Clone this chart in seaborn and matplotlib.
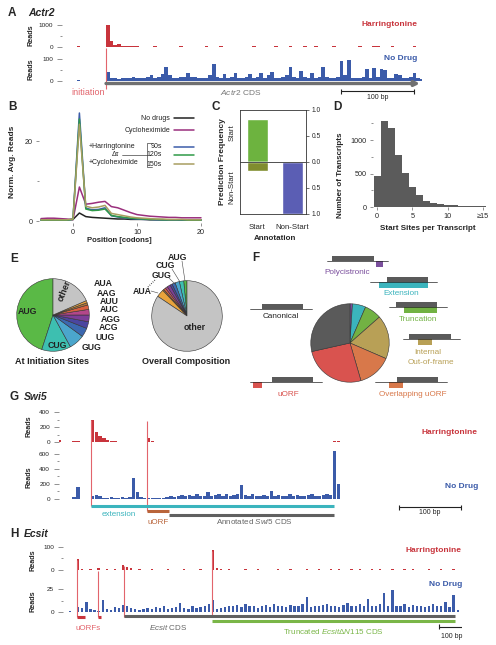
import numpy as np
import pandas as pd
import matplotlib
matplotlib.use('Agg')
import matplotlib.pyplot as plt
from matplotlib.patches import Rectangle
from matplotlib.ticker import FixedLocator
import seaborn as sns

sns.set_theme(style='white')
plt.rcParams['font.family'] = ['Liberation Sans', 'DejaVu Sans']
plt.rcParams['mathtext.fontset'] = 'custom'
plt.rcParams['mathtext.rm'] = 'Liberation Sans'
plt.rcParams['mathtext.it'] = 'Liberation Sans:italic'
plt.rcParams['mathtext.bf'] = 'Liberation Sans:bold'
plt.rcParams['axes.linewidth'] = 0.6

# ---------------- data ----------------
# A: Actr2 read profiles (5 bp bins starting at -55 bp)
actr2_start, actr2_bin = -55, 5
actr2_harr = [0, 0, 0, 30, 0, 0, 0, 0, 0, 0, 0,
              1000, 280, 90, 150, 60, 40, 30, 30, 25, 20, 8, 0, 0, 30, 0, 0, 0, 0, 0, 0, 30, 0, 0, 0, 0, 0, 0,
              30, 0, 0, 0, 30, 0, 0, 0, 0, 0, 0, 0, 0, 30, 0, 0, 0, 0, 0, 30, 0, 0, 0, 30, 0, 0, 0, 30, 0, 0,
              30, 0, 0, 0, 0, 30, 0, 0, 0, 0, 0, 0, 30, 0, 0, 0, 30, 30, 0, 0, 0, 30, 0, 0, 0, 0, 0, 30, 0, 0]
actr2_nodrug = [0, 0, 2, 3, 0, 0, 2, 0, 0, 0, 1,
                40, 15, 12, 10, 12, 14, 12, 20, 14, 12, 15, 18, 25, 15, 20, 30, 65, 25, 15, 14, 18, 20, 35, 20,
                20, 14, 12, 15, 25, 75, 20, 15, 30, 12, 20, 35, 15, 14, 18, 30, 14, 20, 35, 15, 25, 40, 15, 12,
                20, 25, 65, 20, 15, 45, 20, 15, 35, 15, 20, 65, 20, 15, 12, 20, 90, 25, 95, 15, 12, 14, 20, 55,
                15, 60, 20, 55, 50, 15, 12, 30, 25, 14, 15, 20, 35, 12, 8]
actr2_cds = (0, 430)

# B: metagene profiles
position_codons = list(range(-5, 21))
no_drugs = [0.3, 0.3, 0.3, 0.3, 0.3, 0.4, 2.0, 1.1, 0.9, 0.8, 0.7, 0.6, 0.5, 0.5, 0.4, 0.4,
            0.4, 0.3, 0.3, 0.3, 0.3, 0.3, 0.3, 0.3, 0.3, 0.3]
cycloheximide = [0.6, 0.7, 0.7, 0.6, 0.5, 0.3, 8.5, 4.2, 4.4, 4.7, 4.9, 3.6, 3.3, 2.7, 2.1, 1.6,
                 1.4, 1.2, 1.1, 1.0, 0.9, 0.9, 0.8, 0.8, 0.8, 0.8]
harr_90s = [0.2, 0.2, 0.2, 0.2, 0.2, 0.5, 27.0, 3.2, 2.8, 2.9, 3.3, 1.3, 1.0, 0.8, 0.6, 0.5,
            0.4, 0.4, 0.3, 0.3, 0.3, 0.3, 0.2, 0.2, 0.2, 0.2]
harr_120s = [0.2, 0.2, 0.2, 0.2, 0.2, 0.4, 25.5, 3.0, 2.6, 2.7, 3.0, 1.4, 1.1, 0.9, 0.7, 0.6,
             0.5, 0.4, 0.4, 0.3, 0.3, 0.3, 0.3, 0.2, 0.2, 0.2]
harr_150s = [0.3, 0.3, 0.3, 0.3, 0.3, 0.5, 24.2, 3.7, 3.3, 3.5, 3.9, 1.9, 1.6, 1.3, 1.0, 0.8,
             0.7, 0.6, 0.5, 0.5, 0.4, 0.4, 0.4, 0.3, 0.3, 0.3]

# C: prediction frequency
annotation = ['Start', 'Non-Start']
pred_as_start = [0.83, 0.0]
pred_as_nonstart = [-0.17, -1.0]

# D: start sites per transcript
start_sites = list(range(16))
n_transcripts = [470, 1285, 1180, 776, 507, 305, 180, 95, 60, 45, 30, 30, 20, 12, 8, 20]
start_site_labels = ['0', '5', '10', '\u226515']

# E: codon composition
codons = ['AUG', 'CUG', 'GUG', 'UUG', 'ACG', 'AGG', 'AUC', 'AUU', 'AAG', 'AUA', 'other']
init_frac = [0.45, 0.13, 0.07, 0.04, 0.03, 0.03, 0.025, 0.02, 0.01, 0.01, 0.185]
overall_frac = [0.015, 0.02, 0.02, 0.015, 0.01, 0.015, 0.01, 0.01, 0.006, 0.035, 0.844]
codon_colors = ['#5ab946', '#3dbfb0', '#4ba6cc', '#3c68b0', '#4b46a0', '#7d3e98',
                '#b3478a', '#d9603f', '#b5783a', '#e8a33c', '#c4c4c4']

# F: ORF classes
orf_types = ['Polycistronic', 'Extension', 'Truncation', 'Internal Out-of-frame',
             'Overlapping uORF', 'uORF', 'Canonical']
orf_frac = [0.01, 0.055, 0.07, 0.18, 0.14, 0.26, 0.285]
orf_colors = ['#7b4f9d', '#3bb4bd', '#72b243', '#b8a056', '#d8784a', '#d9534f', '#5a5a5a']

# G: Swi5 (6 bp bins starting at -54 bp)
swi5_start, swi5_bin = -54, 6
swi5_harr = [25, 5, 0, 0, 8, 20, 0, 5, 0,
             300, 140, 80, 50, 30, 20,
             8, 0, 5, 0, 6, 0, 4, 0, 6, 55, 12,
             0, 5, 0, 0, 6, 0, 4, 0, 0, 5, 6, 0, 5, 0, 0, 4, 0, 6, 0, 0, 5, 0, 0, 4, 6, 0, 5, 0, 0, 0,
             6, 0, 4, 0, 0, 5, 0, 0, 6, 0, 0, 4, 0, 5, 0, 0, 6, 0, 8, 10,
             0, 0, 4, 0, 0, 0, 5, 0, 0, 0, 0, 4, 0, 0, 0, 0, 5, 0, 0, 0, 0, 0, 4, 0, 0, 0, 0, 5, 0, 0,
             0, 0, 4, 0, 0, 0, 0, 0]
swi5_nodrug = [0, 3, 0, 4, 20, 160, 3, 0, 5,
               40, 55, 35,
               15, 10, 20, 10, 15, 25, 12, 30,
               280, 90,
               20, 10, 15, 8, 12, 10, 15,
               30, 45, 25, 40, 55, 35, 50, 40, 60, 35, 45, 95, 40, 55, 70, 45, 60, 35, 50, 65,
               180, 55, 40, 60, 45, 35, 50, 40, 107, 45, 55, 35, 45, 60, 40, 50, 45, 35, 55, 60,
               40, 45, 50, 65, 55,
               640, 200,
               0, 3, 0, 0, 4, 0, 0, 3, 0, 0, 0, 4, 0, 0, 3, 0, 0, 0, 0, 4, 0, 0, 0, 3, 0, 0, 4, 0, 0, 0,
               3, 0, 0, 4, 0, 3, 0, 0]
swi5_starts = [0, 90]
swi5_extension = (0, 392)
swi5_uorf = (90, 126)
swi5_cds = (126, 392)

# H: Ecsit (16 bp bins starting at -216 bp)
ecsit_start, ecsit_bin = -216, 16
ecsit_harr = [0, 0, 48, 6, 0, 3, 0, 9, 0, 3, 0, 4, 0, 22, 12, 8,
              0, 4, 0, 0, 4, 0, 0, 0, 5, 0, 0, 0, 4, 0, 0, 0, 4, 0, 0,
              85, 10, 6,
              0, 4, 0, 0, 0, 5, 0, 0, 4, 0, 0, 0, 0, 5, 0, 0, 4, 0, 0, 0, 4, 0, 0, 5, 0, 0, 4, 0, 4, 0,
              0, 5, 0, 4, 0, 0, 4, 0, 5, 0, 0, 4, 0, 0, 5, 0, 4, 0, 0, 0, 4, 0, 0, 5, 0, 0, 6, 0]
ecsit_nodrug = [1, 0, 5, 4, 11, 3, 2, 1, 13, 3, 2, 5, 4, 8,
                6, 4, 3, 2, 3, 4, 3, 5, 4, 6, 3, 4, 5, 10, 4, 3, 6, 4, 5, 7, 9,
                13,
                3, 4, 5, 7, 6, 8, 5, 9, 6, 7, 4, 6, 8, 5, 9, 7, 6, 5, 8, 7, 6, 9,
                16,
                5, 7, 6, 8, 9, 6, 7, 5, 8, 10, 6, 7, 9, 6, 14, 7, 6, 9,
                21, 6, 24,
                7, 6, 9, 5, 8, 6, 7, 5, 6, 9, 7, 6, 11, 5,
                18, 2]
ecsit_starts = [-184, -102, 0, 345]
ecsit_uorfs = [(-184, -153), (-102, -90)]
ecsit_cds = (0, 1298)
ecsit_truncated = (345, 1298)

# ---------------- figure ----------------
W, H = 496, 645
RED = '#c8343c'
REDLINE = '#e2646c'
BLUE = '#3b5ba9'
fig = plt.figure(figsize=(W / 100, H / 100), dpi=100)
fig.patch.set_facecolor('white')


def px_axes(x0, y0, x1, y1, **kw):
    return fig.add_axes([x0 / W, 1 - y1 / H, (x1 - x0) / W, (y1 - y0) / H], **kw)


ov = px_axes(0, 0, W, H, zorder=20)
ov.set_xlim(0, W)
ov.set_ylim(H, 0)
ov.axis('off')


def txt(x, y, s, size=5.5, **kw):
    kw.setdefault('ha', 'center')
    kw.setdefault('va', 'center')
    ov.text(x, y, s, fontsize=size, **kw)


def panel(x, y, s):
    txt(x, y, s, size=8.5, fontweight='bold', ha='left')


def track(x0, y0, x1, y1, xlim, ylim, start, binw, vals, width, color, ticks, minor):
    ax = px_axes(x0, y0, x1, y1)
    pos = start + binw * np.arange(len(vals))
    ax.bar(pos, vals, width=width, align='edge', color=color, linewidth=0)
    ax.set_xlim(xlim)
    ax.set_ylim(ylim)
    for s in ax.spines.values():
        s.set_visible(False)
    ax.set_xticks([])
    ax.set_yticks(ticks)
    ax.set_yticklabels([str(t) for t in ticks])
    ax.yaxis.set_minor_locator(FixedLocator(minor))
    ax.tick_params(axis='y', which='major', left=True, length=3.5, width=0.5, pad=3,
                   labelsize=4.6, color='#666', labelcolor='#222')
    ax.tick_params(axis='y', which='minor', left=True, length=1.8, width=0.5, color='#666')
    ax.patch.set_alpha(0)
    return ax


def annot_axes(x0, x1, y0, y1, xlim):
    ax = px_axes(x0, y0, x1, y1, zorder=5)
    ax.set_xlim(xlim)
    ax.set_ylim(y1, y0)
    ax.axis('off')
    return ax


def scalebar(ax, a, b, y, ytext):
    ax.plot([a, b], [y, y], color='#222', lw=0.8)
    ax.vlines([a, b], y - 2.5, y + 2.5, color='#222', lw=0.8)
    ax.text((a + b) / 2, ytext, '100 bp', fontsize=5, ha='center', va='center', color='#222')


def pie(ax, fracs, colors, **kw):
    ax.pie(fracs, colors=colors, startangle=90, radius=1,
           wedgeprops=dict(edgecolor='#333', linewidth=0.4), **kw)
    ax.set_xlim(-1.02, 1.02)
    ax.set_ylim(-1.02, 1.02)


# ---------------- A ----------------
panel(8, 13, 'A')
txt(28, 13, 'Actr2', size=7.5, fontweight='bold', fontstyle='italic', ha='left')
xlA = ((62 - 106) / 0.73, (422 - 106) / 0.73)
track(62, 22, 422, 47, xlA, (0, 1136), actr2_start, actr2_bin, actr2_harr, 5, RED, [0, 1000], [500])
track(62, 56, 422, 81, xlA, (0, 113.6), actr2_start, actr2_bin, actr2_nodrug, 5, BLUE, [0, 100], [50])
aA = annot_axes(62, 422, 0, 105, xlA)
aA.vlines(0.5, 48, 89, color=REDLINE, lw=0.8)
aA.annotate('', xy=(actr2_cds[1], 83.5), xytext=(actr2_cds[0], 83.5),
            arrowprops=dict(arrowstyle='-|>', lw=2.4, color='#707070', mutation_scale=7,
                            shrinkA=0, shrinkB=0))
aA.text(-1, 92.5, 'initiation', fontsize=6.5, color=REDLINE, ha='right', va='center')
aA.text(185, 92.5, r'$\mathit{Actr2}$ CDS', fontsize=6, color='#777', ha='center', va='center')
scalebar(aA, 322, 422, 91, 97.5)
txt(417, 24, 'Harringtonine', size=6, color=RED, fontweight='bold', ha='right')
txt(417, 59, 'No Drug', size=6, color=BLUE, fontweight='bold', ha='right')
txt(31, 35, 'Reads', size=5.2, fontweight='bold', rotation=90)
txt(31, 69, 'Reads', size=5.2, fontweight='bold', rotation=90)

# ---------------- B ----------------
panel(8, 107, 'B')
n = len(position_codons)
dfB = pd.DataFrame({
    'Position': position_codons * 5,
    'Reads': no_drugs + cycloheximide + harr_90s + harr_120s + harr_150s,
    'Condition': ['No drugs'] * n + ['Cycloheximide'] * n + ['90s'] * n + ['120s'] * n + ['150s'] * n,
})
palB = {'No drugs': '#222222', 'Cycloheximide': '#9a2f7d', '90s': '#3c5da9',
        '120s': '#2f9a48', '150s': '#a89e60'}
axB = px_axes(39, 109, 203, 223)
sns.lineplot(data=dfB, x='Position', y='Reads', hue='Condition', palette=palB,
             hue_order=['No drugs', 'Cycloheximide', '90s', '120s', '150s'],
             linewidth=1.1, legend=False, ax=axB)
axB.set_xlim(-5.31, 20.31)
axB.set_ylim(-0.5, 28)
for s in axB.spines.values():
    s.set_visible(False)
axB.set_xticks([0, 10, 20])
axB.set_yticks([0, 20])
axB.yaxis.set_minor_locator(FixedLocator([10]))
axB.tick_params(axis='both', which='major', labelsize=5.2, length=2.5, width=0.5, color='#666',
                left=True, bottom=True, pad=2)
axB.tick_params(axis='y', which='minor', left=True, length=1.5, width=0.5, color='#666')
axB.set_xlabel('')
axB.set_ylabel('')
axB.patch.set_alpha(0)
txt(13, 162, 'Norm. Avg. Reads', size=6, fontweight='bold', rotation=90)
txt(119, 241, 'Position [codons]', size=5.6, fontweight='bold')
# legend keys
for label, y, key in [('No drugs', 118, 'No drugs'), ('Cycloheximide', 130, 'Cycloheximide')]:
    txt(170, y, label, size=5, ha='right', color='#222')
    ov.plot([174, 194], [y, y], color=palB[key], lw=1.1)
for label, y in [('90s', 147), ('120s', 155), ('150s', 164)]:
    txt(162, y, label, size=5, ha='right', color='#222')
    ov.plot([174, 194], [y, y], color=palB[label], lw=1.1)
txt(89, 147, '+Harringtonine', size=5, ha='left', color='#222')
txt(115, 154.5, '\u0394\u03c4', size=5, color='#222')
txt(89, 162.5, '+Cycloheximide', size=5, ha='left', color='#222')
ov.plot([122, 147], [155, 155], color='#444', lw=0.5)
ov.plot([152, 147, 147, 152], [143, 143, 167, 167], color='#444', lw=0.5)

# ---------------- C ----------------
panel(212, 107, 'C')
axC = px_axes(240, 110, 306, 214)
sns.barplot(x=annotation, y=pred_as_start, hue=annotation, palette=['#6db33f', '#6db33f'],
            width=0.6, saturation=1, legend=False, ax=axC)
sns.barplot(x=annotation, y=pred_as_nonstart, hue=annotation, palette=['#808d2e', '#5b5eb4'],
            width=0.6, saturation=1, legend=False, ax=axC)
axC.set_xlim(-0.5, 1.386)
axC.set_ylim(-1, 1)
axC.axhline(0, color='#333', lw=0.6)
axC.yaxis.tick_right()
axC.set_yticks([-1, -0.5, 0, 0.5, 1])
axC.set_yticklabels(['1.0', '0.5', '0.0', '0.5', '1.0'])
axC.tick_params(axis='y', right=True, length=2.5, width=0.5, labelsize=4.8, pad=1.5, color='#333')
axC.tick_params(axis='x', length=0, labelsize=5.6, pad=7)
for s in axC.spines.values():
    s.set_color('#333')
    s.set_linewidth(0.6)
axC.set_xlabel('')
axC.set_ylabel('')
txt(232, 133, 'Start', size=5.6, rotation=90)
txt(232, 187, 'Non-Start', size=5.6, rotation=90)
txt(223, 162, 'Prediction Frequency', size=6, fontweight='bold', rotation=90)
txt(275, 238, 'Annotation', size=5.8, fontweight='bold')

# ---------------- D ----------------
panel(333, 107, 'D')
axD = px_axes(373, 118, 489, 207)
sns.histplot(x=start_sites, weights=n_transcripts, discrete=True, color='#5b5b5b',
             alpha=1, linewidth=0, ax=axD)
axD.set_xlim(-0.6, 15.9)
axD.set_ylim(0, 1330)
for s in axD.spines.values():
    s.set_visible(False)
axD.set_xticks([0, 5, 10, 15])
axD.set_xticklabels(start_site_labels)
axD.set_yticks([0, 500, 1000])
axD.yaxis.set_minor_locator(FixedLocator([250, 750, 1250]))
axD.tick_params(axis='both', which='major', labelsize=5.2, length=2.5, width=0.5, color='#666',
                left=True, bottom=True, pad=2)
axD.tick_params(axis='y', which='minor', left=True, length=1.5, width=0.5, color='#666')
axD.set_xlabel('')
axD.set_ylabel('')
txt(341, 175, 'Number of Transcripts', size=5.8, fontweight='bold', rotation=90)
txt(428, 228, 'Start Sites per Transcript', size=5.8, fontweight='bold')

# ---------------- E ----------------
panel(10, 259, 'E')
axE1 = px_axes(16, 278, 90, 352)
pie(axE1, init_frac, codon_colors)
axE2 = px_axes(151, 280, 223, 352)
pie(axE2, overall_frac, codon_colors)
eb = dict(size=6.3, fontweight='bold', color='#222')
txt(27, 312, 'AUG', **eb)
txt(57, 345, 'CUG', **eb)
txt(64, 291, 'other', rotation=68, **eb)
for lab, x, y in [('AUA', 94, 284), ('AAG', 97, 293), ('AUU', 100, 302), ('AUC', 100, 310),
                  ('AGG', 101, 319), ('ACG', 99, 328), ('UUG', 96, 338), ('GUG', 82, 348)]:
    txt(x, y, lab, ha='left', **eb)
txt(52, 362, 'At Initiation Sites', size=6.5, fontweight='bold', color='#222')
txt(177, 257, 'AUG', **eb)
txt(165, 266, 'CUG', **eb)
txt(161, 275, 'GUG', **eb)
txt(142, 291, 'AUA', **eb)
txt(195, 328, 'other', **eb)
ov.plot([182, 185], [261, 281], color='#444', lw=0.4)
ov.plot([172, 180], [269, 282], color='#444', lw=0.4)
ov.plot([169, 175], [278, 284], color='#444', lw=0.4)
ov.plot([151, 158], [291, 293], color='#444', lw=0.4)
ov.plot([148, 156], [287, 279], color='#333', lw=0.9, ls=(0, (0.6, 1.2)))
txt(186, 362, 'Overall Composition', size=6.5, fontweight='bold', color='#222')

# ---------------- F ----------------
panel(252, 258, 'F')
axF = px_axes(310, 303, 390, 383)
pie(axF, orf_frac, orf_colors, counterclock=False)


def schematic(lx0, lx1, y, gx0, gx1, color=None, cx0=None, cx1=None):
    ov.plot([lx0, lx1], [y, y], color='#222', lw=0.5)
    ov.add_patch(Rectangle((gx0, y - 5.5), gx1 - gx0, 5.5, color='#5a5a5a', lw=0))
    if color is not None:
        ov.add_patch(Rectangle((cx0, y), cx1 - cx0, 5.5, color=color, lw=0))


schematic(327, 388, 261, 332, 374, orf_colors[0], 376, 383)
txt(347, 273, 'Polycistronic', size=5.9, color=orf_colors[0])
schematic(370, 437, 282, 387, 428, orf_colors[1], 379, 428)
txt(401, 293.5, 'Extension', size=5.9, color=orf_colors[1])
schematic(250, 312, 309, 262, 303)
txt(281, 316.5, 'Canonical', size=5.9, color='#222')
schematic(389, 447, 307, 396, 437, orf_colors[2], 404, 437)
txt(418, 319.5, 'Truncation', size=5.9, color=orf_colors[2])
schematic(403, 460, 339, 409, 451, orf_colors[3], 418, 432)
txt(428, 352, 'Internal', size=5.9, color=orf_colors[3])
txt(431, 362, 'Out-of-frame', size=5.9, color=orf_colors[3])
schematic(250, 322, 382, 272, 313, orf_colors[5], 253, 262)
txt(288, 395, 'uORF', size=5.9, color=orf_colors[5])
schematic(375, 447, 382, 397, 438, orf_colors[4], 389, 403)
txt(413, 395, 'Overlapping uORF', size=5.9, color=orf_colors[4])

# ---------------- G ----------------
panel(10, 397, 'G')
txt(24, 397, 'Swi5', size=7.5, fontweight='bold', fontstyle='italic', ha='left')
xlG = ((59 - 91) / 0.62, (480 - 91) / 0.62)
track(59, 409, 480, 442, xlG, (0, 440), swi5_start, swi5_bin, swi5_harr, 5.5, RED,
      [0, 200, 400], [100, 300])
track(59, 450, 480, 499, xlG, (0, 653), swi5_start, swi5_bin, swi5_nodrug, 5.5, BLUE,
      [0, 200, 400, 600], [100, 300, 500])
aG = annot_axes(59, 480, 395, 530, xlG)
aG.vlines(swi5_starts[0], 420, 506, color=REDLINE, lw=0.8)
aG.vlines(swi5_starts[1], 421, 511, color=REDLINE, lw=0.8)
aG.hlines(506, *swi5_extension, color='#3bb4bd', lw=2.2)
aG.hlines(511, *swi5_uorf, color='#b9643a', lw=2.2)
aG.hlines(515, *swi5_cds, color='#606060', lw=2.2)
aG.text(45, 514, 'extension', fontsize=5.8, color='#3bb4bd', ha='center', va='center')
aG.text(108, 522, 'uORF', fontsize=5.8, color='#b9643a', ha='center', va='center')
aG.text(263, 522, r'Annotated $\mathit{Swi5}$ CDS', fontsize=5.8, color='#666', ha='center', va='center')
scalebar(aG, 497, 597, 507, 512.5)
txt(478, 432, 'Harringtonine', size=6, color=RED, fontweight='bold', ha='right')
txt(478, 487, 'No Drug', size=6, color=BLUE, fontweight='bold', ha='right')
txt(29, 426, 'Reads', size=5.2, fontweight='bold', rotation=90)
txt(29, 477, 'Reads', size=5.2, fontweight='bold', rotation=90)

# ---------------- H ----------------
panel(10, 534, 'H')
txt(24, 534, 'Ecsit', size=7.5, fontweight='bold', fontstyle='italic', ha='left')
xlH = ((63 - 124) / 0.255, (462 - 124) / 0.255)
track(63, 544, 462, 570, xlH, (0, 113), ecsit_start, ecsit_bin, ecsit_harr, 9, RED, [0, 100], [50])
track(63, 586, 462, 612, xlH, (0, 28.3), ecsit_start, ecsit_bin, ecsit_nodrug, 9, BLUE, [0, 25], [12.5])
aH = annot_axes(63, 462, 530, 645, xlH)
for sx, ytop in zip(ecsit_starts, [560, 571, 566, 551]):
    aH.vlines(sx, ytop, 617, color=REDLINE, lw=0.8)
for a, b in ecsit_uorfs:
    aH.hlines(617, a, b, color=RED, lw=2.2)
aH.hlines(615.5, *ecsit_cds, color='#606060', lw=2.2)
aH.hlines(621, *ecsit_truncated, color='#7ab648', lw=2.2)
aH.text(-141, 628, 'uORFs', fontsize=5.8, color=REDLINE, ha='center', va='center')
aH.text(173, 628, r'$\mathit{Ecsit}$ CDS', fontsize=5.8, color='#666', ha='center', va='center')
aH.text(820, 631.5, r'Truncated $\mathit{Ecsit\Delta N115}$ CDS', fontsize=5.8, color='#7ab648',
        ha='center', va='center')
scalebar(aH, 1235, 1337, 626.5, 636)
txt(462, 550, 'Harringtonine', size=6, color=RED, fontweight='bold', ha='right')
txt(462, 584, 'No Drug', size=6, color=BLUE, fontweight='bold', ha='right')
txt(33, 560, 'Reads', size=5.2, fontweight='bold', rotation=90)
txt(33, 601, 'Reads', size=5.2, fontweight='bold', rotation=90)

fig.savefig('out.png', dpi=100, facecolor='white')
